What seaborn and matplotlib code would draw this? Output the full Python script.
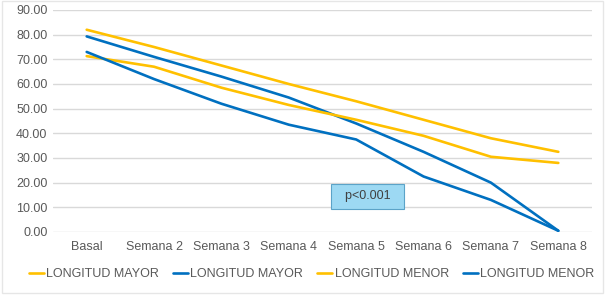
import matplotlib
matplotlib.use('Agg')
import matplotlib.pyplot as plt
import seaborn as sns
import pandas as pd
from matplotlib.patches import Rectangle

# --- Data ---
semanas = ['Basal', 'Semana 2', 'Semana 3', 'Semana 4', 'Semana 5', 'Semana 6', 'Semana 7', 'Semana 8']
mayor_amarillo = [82.0, 75.0, 67.5, 60.0, 53.0, 45.5, 38.0, 32.5]
mayor_azul = [79.3, 71.0, 63.0, 54.5, 44.0, 32.5, 20.0, 0.5]
menor_amarillo = [71.3, 67.0, 58.5, 51.5, 45.5, 39.0, 30.5, 28.0]
menor_azul = [73.0, 62.0, 52.0, 43.5, 37.5, 22.5, 13.0, 0.5]
series_labels = ['LONGITUD MAYOR', 'LONGITUD MAYOR', 'LONGITUD MENOR', 'LONGITUD MENOR']
yticks = [0, 10, 20, 30, 40, 50, 60, 70, 80, 90]

AMARILLO = '#FFC000'
AZUL = '#0070C0'
GRIS = '#595959'

sns.set_theme(style="white")
plt.rcParams['font.family'] = ['Liberation Sans', 'DejaVu Sans']

fig = plt.figure(figsize=(6.05, 3.02), dpi=100)
ax = fig.add_axes([53 / 605, 1 - 232 / 302, 539 / 605, 222 / 302])

all_series = [mayor_amarillo, mayor_azul, menor_amarillo, menor_azul]
colors = [AMARILLO, AZUL, AMARILLO, AZUL]
for vals, lab, col in zip(all_series, series_labels, colors):
    df = pd.DataFrame({'x': range(len(semanas)), 'y': vals})
    sns.lineplot(data=df, x='x', y='y', ax=ax, color=col, linewidth=1.9, label=lab)

ax.set_xlim(-0.5, len(semanas) - 0.5)
ax.set_ylim(0, 90)
ax.set_yticks(yticks)
ax.set_yticklabels([f'{v:.2f}' for v in yticks], fontsize=9, color=GRIS)
ax.set_xticks(range(len(semanas)))
ax.set_xticklabels(semanas, fontsize=9, color=GRIS)
ax.tick_params(axis='y', length=0, pad=4)
ax.tick_params(axis='x', length=0, pad=6.5)
ax.set_xlabel('')
ax.set_ylabel('')
ax.grid(True, axis='y', color='#D9D9D9', linewidth=1)
ax.set_axisbelow(True)
for s in ax.spines.values():
    s.set_visible(False)

# p-value box
ax.text(4.17, 14.4, '  p<0.001  ', fontsize=9, color='#404040', ha='center', va='center',
        bbox=dict(boxstyle='square,pad=0.55', facecolor='#9DD9F3', edgecolor='#5BA3C8', linewidth=0.8))

# legend
handles, labels = ax.get_legend_handles_labels()
ax.get_legend().remove()
fig.legend(handles, labels, loc='center', bbox_to_anchor=(0.515, 1 - 274 / 302), ncol=4,
           frameon=False, fontsize=9, handlelength=1.2, handletextpad=0.2, columnspacing=1.1,
           labelcolor=GRIS)

# outer chart border
fig.patches.append(Rectangle((2 / 605, 1 - 293 / 302), 601 / 605, 292 / 302,
                             transform=fig.transFigure, facecolor='none',
                             edgecolor='#E6E6E6', linewidth=1))

fig.savefig('out.png', dpi=100)
